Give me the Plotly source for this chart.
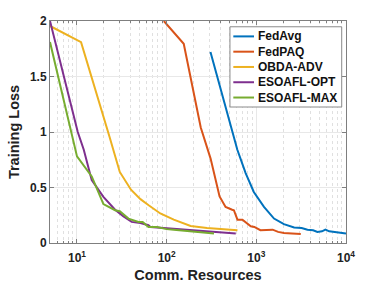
import plotly.graph_objects as go

# ---- data ----
fedavg_x = [308, 494, 562, 614, 760, 937, 1217, 1575, 2030, 2640, 3200, 3720, 4300, 4800, 5400, 5900, 6500, 7400, 8600, 10000]
fedavg_y = [1.72, 1.11, 0.96, 0.84, 0.63, 0.46, 0.325, 0.22, 0.17, 0.14, 0.135, 0.12, 0.115, 0.10, 0.105, 0.12, 0.105, 0.10, 0.095, 0.085]

fedpaq_x = [93, 155, 240, 309, 389, 454, 538, 562, 616, 700, 867, 950, 1110, 1300, 1520, 1750, 2030, 2500, 3130]
fedpaq_y = [2.0, 1.795, 1.04, 0.76, 0.42, 0.325, 0.30, 0.295, 0.21, 0.21, 0.15, 0.145, 0.115, 0.12, 0.12, 0.10, 0.09, 0.085, 0.08]

obda_x = [5, 11.1, 23, 30, 40, 51, 63, 85, 120, 185, 282, 400, 616]
obda_y = [1.955, 1.81, 0.96, 0.64, 0.48, 0.395, 0.34, 0.266, 0.21, 0.154, 0.136, 0.125, 0.115]

opt_x = [5, 10.2, 11.9, 14.6, 19.7, 26.6, 33, 40.7, 51, 62.7, 66, 80, 100, 120, 160, 200, 282, 400, 590]
opt_y = [2.0, 1.0, 0.84, 0.566, 0.415, 0.30, 0.24, 0.19, 0.18, 0.16, 0.145, 0.14, 0.135, 0.13, 0.12, 0.115, 0.105, 0.10, 0.085]

max_x = [5, 10, 14.6, 19.7, 26.6, 30, 37.5, 45, 48.5, 54, 62.7, 78, 100, 120, 160, 200, 260, 337]
max_y = [1.81, 0.78, 0.60, 0.35, 0.295, 0.286, 0.22, 0.20, 0.19, 0.19, 0.145, 0.145, 0.125, 0.12, 0.11, 0.10, 0.095, 0.085]

series_names = ["FedAvg", "FedPAQ", "OBDA-ADV", "ESOAFL-OPT", "ESOAFL-MAX"]
series_x = [fedavg_x, fedpaq_x, obda_x, opt_x, max_x]
series_y = [fedavg_y, fedpaq_y, obda_y, opt_y, max_y]
series_colors = ["#0072BD", "#D95319", "#EDB120", "#7E2F8E", "#77AC30"]

x_tickvals = [10, 100, 1000, 10000]
x_ticktext = ["10<sup>1</sup>", "10<sup>2</sup>", "10<sup>3</sup>", "10<sup>4</sup>"]
x_minorvals = [m * 10 ** e for e in range(0, 4) for m in range(2, 10) if 5 <= m * 10 ** e <= 10000]
y_tickvals = [0, 0.5, 1, 1.5, 2]
y_ticktext = ["0", "0.5", "1", "1.5", "2"]

FAM = "Liberation Sans, Arial, sans-serif"
axis_font = dict(family=FAM, size=12, color="#222222", weight="bold")
title_font = dict(family=FAM, size=14.5, color="#222222", weight="bold")

fig = go.Figure()
for name, xs, ys, col in zip(series_names, series_x, series_y, series_colors):
    fig.add_trace(go.Scatter(x=xs, y=ys, name=name, mode="lines",
                             line=dict(color=col, width=2), showlegend=False))

# ---- legend box drawn in axis-domain coordinates (MATLAB style) ----
LX0, LX1, LY0, LY1 = 0.608, 0.9855, 0.6126, 0.974
fig.add_shape(type="rect", xref="x domain", yref="y domain",
              x0=LX0, x1=LX1, y0=LY0, y1=LY1,
              line=dict(color="#8a8a8a", width=1), fillcolor="white", layer="above")
pitch = (LY1 - LY0) / 5.25
for i, (name, col) in enumerate(zip(series_names, series_colors)):
    yc = LY1 - pitch * (0.63 + i)
    fig.add_shape(type="line", xref="x domain", yref="y domain",
                  x0=0.6193, x1=0.6892, y0=yc, y1=yc,
                  line=dict(color=col, width=2), layer="above")
    fig.add_annotation(xref="x domain", yref="y domain", x=0.697, y=yc,
                       xanchor="left", yanchor="middle", showarrow=False,
                       text=name, font=dict(family=FAM, size=12, color="#111111", weight="bold"))

fig.update_layout(
    width=382, height=287,
    margin=dict(l=50, r=36, t=21, b=44),
    paper_bgcolor="white", plot_bgcolor="white",
    font=dict(family=FAM, color="#222222"),
    showlegend=False,
    xaxis=dict(type="log", range=[0.69897, 4], automargin=False,
               tickvals=x_tickvals, ticktext=x_ticktext, tickfont=axis_font,
               ticklabelstandoff=4,
               showline=True, linecolor="#7f7f7f", linewidth=1, mirror="ticks",
               ticks="inside", ticklen=4, tickcolor="#7f7f7f",
               showgrid=True, gridcolor="#e8e8e8", gridwidth=1,
               minor=dict(tickvals=x_minorvals, showgrid=True, gridcolor="#e0e0e0", griddash="dot",
                          ticks="inside", ticklen=2, tickcolor="#7f7f7f"),
               title=dict(text="Comm. Resources", standoff=5, font=title_font),
               zeroline=False),
    yaxis=dict(range=[0, 2], automargin=False,
               tickvals=y_tickvals, ticktext=y_ticktext, tickfont=axis_font,
               showline=True, linecolor="#7f7f7f", linewidth=1, mirror="ticks",
               ticks="inside", ticklen=4, tickcolor="#7f7f7f",
               showgrid=True, gridcolor="#e8e8e8", gridwidth=1,
               title=dict(text="Training Loss", standoff=6, font=title_font),
               zeroline=False),
)

fig.write_html("out.html", post_script="document.body.style.margin='0';",
               config={"displayModeBar": False})
